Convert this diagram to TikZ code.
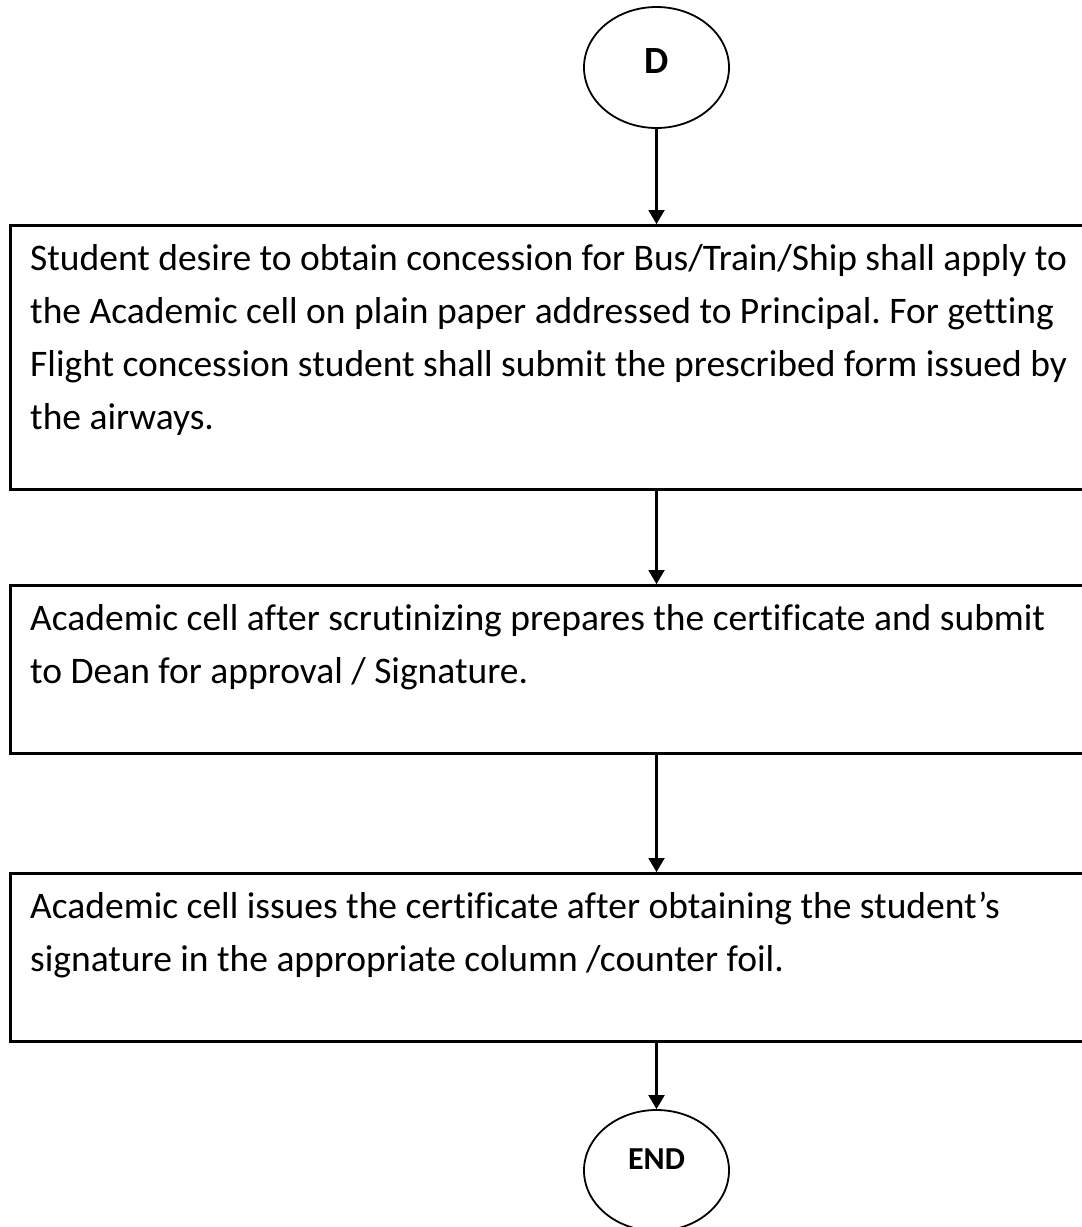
\documentclass[tikz,border=0pt]{standalone}
\usepackage{fontspec}
\setmainfont{Carlito}[Ligatures=NoCommon]
\usetikzlibrary{arrows.meta,shapes.geometric}
\frenchspacing
\begin{document}
\begin{tikzpicture}[x=1pt,y=-1pt,
  terminal/.style={draw, ellipse, line width=1.8pt, minimum width=145pt, minimum height=121pt, inner sep=0pt},
  stepbox/.style={draw, rectangle, line width=2.6pt, anchor=north west, inner sep=0pt},
  steptext/.style={anchor=base west, align=left, inner sep=0pt, font=\fontsize{37.5}{53}\selectfont},
  arr/.style={line width=2.2pt, -{Triangle[width=16pt,length=14pt]}}]
\clip (0,0) rectangle (1082,1227);
\fill[white] (0,0) rectangle (1082,1227);

\node[terminal, font=\fontsize{38.5}{44}\selectfont\bfseries, text height=25pt, text depth=13pt] (d) at (656.5,67.5) {D};

% process boxes; each text node is placed by the baseline of its last line
\node[stepbox, minimum width=1090pt, minimum height=264pt] (b1) at (9,224) {};
\node[steptext] (t1) at (30,429) {Student desire to obtain concession for Bus/Train/Ship shall apply to\\
the Academic cell on plain paper addressed to Principal. For getting\\
Flight concession student shall submit the prescribed form issued by\\
the airways.};

\node[stepbox, minimum width=1090pt, minimum height=168pt] (b2) at (9,584) {};
\node[steptext] (t2) at (30,683) {Academic cell after scrutinizing prepares the certificate and submit\\
to Dean for approval / Signature.};

\node[stepbox, minimum width=1090pt, minimum height=168pt] (b3) at (9,872) {};
\node[steptext] (t3) at (30,971) {Academic cell issues the certificate after obtaining the student’s\\
signature in the appropriate column /counter foil.};

\node[terminal, font=\fontsize{32}{38}\selectfont\bfseries, text height=21pt, text depth=22.4pt] (e) at (656.5,1170.5) {END};

\draw[arr] (d.south) -- (d.south |- b1.north);
\draw[arr] (d.south |- b1.south) -- (d.south |- b2.north);
\draw[arr] (d.south |- b2.south) -- (d.south |- b3.north);
\draw[arr] (d.south |- b3.south) -- (e.north);
\end{tikzpicture}
\end{document}
